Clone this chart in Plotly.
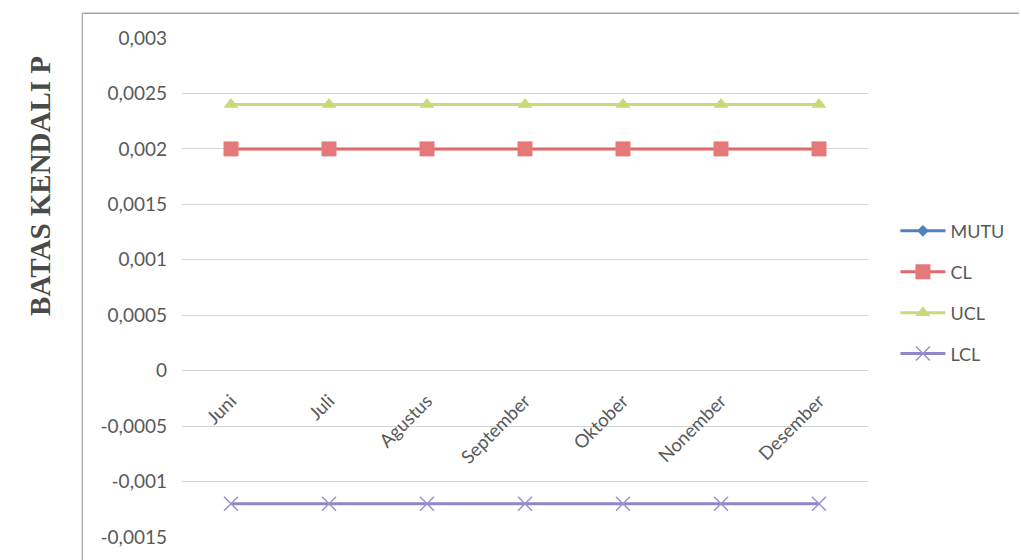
import plotly.graph_objects as go

months = ["Juni", "Juli", "Agustus", "September", "Oktober", "Nonember", "Desember"]
mutu = [None, None, None, None, None, None, None]
cl = [0.002, 0.002, 0.002, 0.002, 0.002, 0.002, 0.002]
ucl = [0.0024, 0.0024, 0.0024, 0.0024, 0.0024, 0.0024, 0.0024]
lcl = [-0.0012, -0.0012, -0.0012, -0.0012, -0.0012, -0.0012, -0.0012]

y_tickvals = [0.003, 0.0025, 0.002, 0.0015, 0.001, 0.0005, 0, -0.0005, -0.001, -0.0015]
y_ticktext = ["0,003", "0,0025", "0,002", "0,0015", "0,001", "0,0005", "0", "-0,0005", "-0,001", "-0,0015"]

FONT = "Lato"
fig = go.Figure()

fig.add_trace(go.Scatter(x=months, y=mutu, name="MUTU", mode="lines+markers",
                         line=dict(color="#4f81bd", width=3),
                         marker=dict(symbol="diamond", size=9, color="#4f81bd"),
                         legendgroup="a"))
fig.add_trace(go.Scatter(x=months, y=cl, name="CL", mode="lines+markers",
                         line=dict(color="#e0686a", width=3),
                         marker=dict(symbol="square", size=15, color="#e5797a"),
                         legendgroup="b"))
fig.add_trace(go.Scatter(x=months, y=ucl, name="UCL", mode="lines+markers",
                         line=dict(color="#c9dc7c", width=3),
                         marker=dict(symbol="triangle-up", size=13, color="#c6da78"),
                         legendgroup="c"))
fig.add_trace(go.Scatter(x=months, y=lcl, name="LCL", mode="lines+markers",
                         line=dict(color="#8f87c6", width=3),
                         marker=dict(symbol="x-thin", size=14, color="#9a93cc",
                                     line=dict(color="#9a93cc", width=1.5)),
                         legendgroup="d"))

fig.update_layout(
    width=1021, height=560,
    margin=dict(l=182, r=151, t=38, b=20),
    paper_bgcolor="white", plot_bgcolor="white",
    showlegend=True,
    legend=dict(x=1.04, y=0.65, xanchor="left", yanchor="top",
                font=dict(family=FONT, size=18, color="#595959"),
                traceorder="grouped", tracegroupgap=14.5, itemwidth=45,
                bgcolor="rgba(0,0,0,0)"),
    xaxis=dict(type="category", range=[-0.5, 6.5], anchor="free", position=1/3,
               showgrid=False, showline=False, zeroline=False, ticks="",
               ticklabelstandoff=15,
               tickangle=-45, tickfont=dict(family=FONT, size=18.5, color="#595959")),
    yaxis=dict(range=[-0.0015, 0.003], tickvals=y_tickvals, ticktext=y_ticktext,
               showgrid=True, gridcolor="#d4d4d4", gridwidth=1,
               zeroline=False, showline=False, ticks="", ticklabelstandoff=14,
               tickfont=dict(family=FONT, size=19, color="#595959")),
    annotations=[dict(text="<b>BATAS KENDALI P</b>", xref="paper", yref="paper",
                      x=-0.206, y=0.703, xanchor="center", yanchor="middle",
                      textangle=-90, showarrow=False,
                      font=dict(family="Liberation Serif", size=29, color="#4a4a4a"))],
    shapes=[
        dict(type="line", xref="paper", yref="paper", x0=-0.1453, x1=1.22, y0=1.0498, y1=1.0498,
             line=dict(color="#a6a6a6", width=1.5)),
        dict(type="line", xref="paper", yref="paper", x0=-0.1453, x1=-0.1453, y0=-0.05, y1=1.0498,
             line=dict(color="#b0b0b0", width=1.5)),
    ],
)

fig.write_html("out.html")
